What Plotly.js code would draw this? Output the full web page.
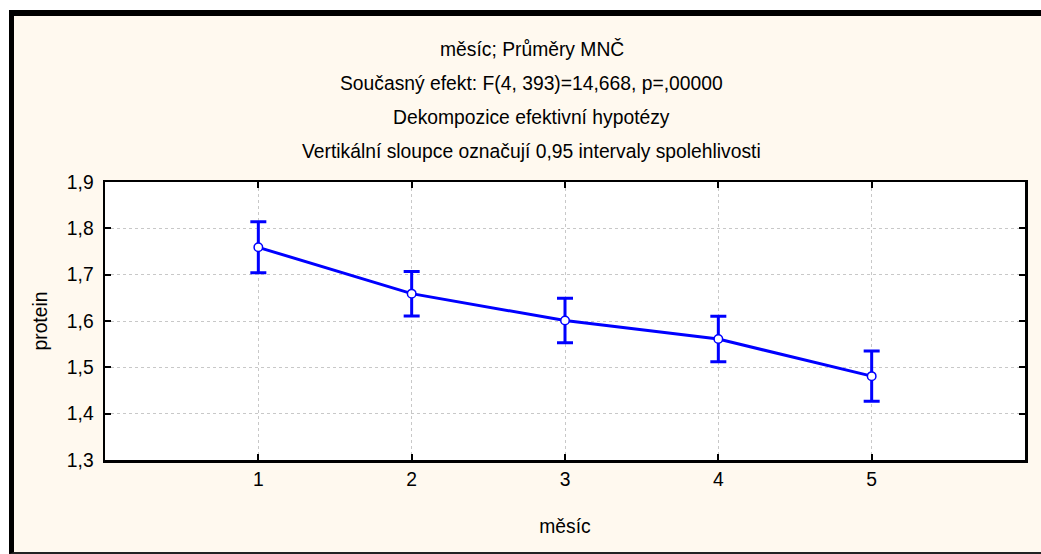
<!DOCTYPE html>
<html>
<head>
<meta charset="utf-8">
<script src="https://cdn.plot.ly/plotly-3.0.1.min.js"></script>
<style>
html,body{margin:0;padding:0;background:#ffffff;width:1041px;height:554px;overflow:hidden;}
#frame{position:absolute;left:9px;top:10px;width:1032px;height:544px;box-sizing:border-box;
  border-left:5px solid #000;border-top:6px solid #000;border-bottom:2px solid #222;background:#FFF9EF;}
#chart{width:1027px;height:536px;}
</style>
</head>
<body>
<div id="frame"><div id="chart"></div></div>
<script>
const months = [1, 2, 3, 4, 5];
const tickLabels = ["1", "2", "3", "4", "5"];
const proteinMean = [1.759, 1.659, 1.601, 1.561, 1.481];
const ciHalf = [0.055, 0.048, 0.048, 0.049, 0.054];
const titleLines = [
  "měsíc; Průměry MNČ",
  "Současný efekt: F(4, 393)=14,668, p=,00000",
  "Dekompozice efektivní hypotézy",
  "Vertikální sloupce označují 0,95 intervaly spolehlivosti"
];
const xTitle = "měsíc";
const yTitle = "protein";

const FONT = "Liberation Sans, Arial, sans-serif";
const FS = 19.3;
const blue = "#0000FF";

const trace = {
  x: months,
  y: proteinMean,
  type: "scatter",
  mode: "lines+markers",
  line: {color: blue, width: 3},
  marker: {symbol: "circle", size: 8.5, color: "#ffffff", line: {color: blue, width: 1.5}},
  error_y: {type: "data", array: ciHalf, visible: true, color: blue, thickness: 3, width: 8},
  hoverinfo: "skip"
};

const titleOffsets = [133, 99, 65, 31];
const annotations = titleLines.map((t, i) => ({
  text: t, xref: "paper", yref: "paper", x: 0.464, y: 1,
  xanchor: "center", yanchor: "middle", yshift: titleOffsets[i],
  showarrow: false, font: {family: FONT, size: FS, color: "#000"}
}));

const layout = {
  width: 1027, height: 536,
  margin: {l: 91, r: 16, t: 166, b: 92, pad: 0},
  paper_bgcolor: "#FFF9EF",
  plot_bgcolor: "#ffffff",
  separators: ", ",
  showlegend: false,
  font: {family: FONT, size: FS, color: "#000"},
  annotations: annotations,
  xaxis: {
    range: [0, 6], tickvals: months, ticktext: tickLabels,
    showline: true, linecolor: "#000", linewidth: 2.5, mirror: "ticks",
    ticks: "inside", ticklen: 6, tickwidth: 2, tickcolor: "#000",
    showgrid: true, gridcolor: "#c8c8c8", griddash: "dot", gridwidth: 1,
    zeroline: false, fixedrange: true,
    tickfont: {family: FONT, size: FS, color: "#000"},
    title: {text: xTitle, font: {family: FONT, size: FS, color: "#000"}, standoff: 31}
  },
  yaxis: {
    range: [1.3, 1.9], dtick: 0.1, tick0: 1.3, tickformat: ".1f",
    showline: true, linecolor: "#000", linewidth: 2.5, mirror: "ticks",
    ticks: "inside", ticklen: 6, tickwidth: 2, tickcolor: "#000",
    ticklabelstandoff: 5,
    showgrid: true, gridcolor: "#c8c8c8", griddash: "dot", gridwidth: 1,
    zeroline: false, fixedrange: true,
    tickfont: {family: FONT, size: FS, color: "#000"},
    title: {text: yTitle, font: {family: FONT, size: FS, color: "#000"}, standoff: 14}
  }
};

Plotly.newPlot("chart", [trace], layout, {staticPlot: true, displayModeBar: false});
</script>
</body>
</html>
